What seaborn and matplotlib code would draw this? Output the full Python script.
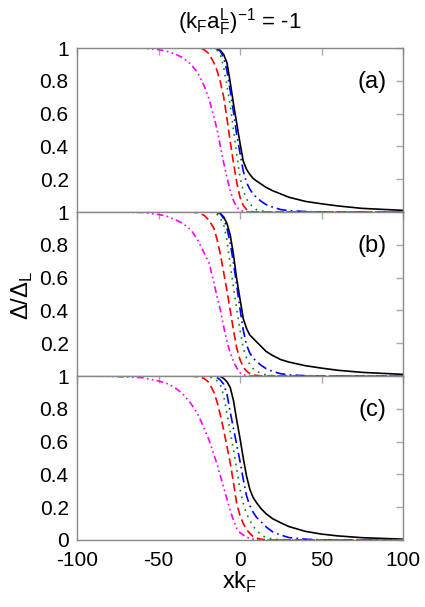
import numpy as np
import pandas as pd
import matplotlib
matplotlib.use("Agg")
import matplotlib.pyplot as plt
import seaborn as sns

# common x grid (x k_F)
x = [-100, -80, -60, -50, -45, -40, -35, -30, -26, -22, -19, -16, -14, -12, -10,
     -8, -6, -4, -2, 0, 2, 4, 6, 8, 10, 13, 16, 20, 25, 30, 40, 50, 60, 75, 100]

# panel (a)
black_a = [1, 1, 1, 1, 1, 1, 1, 1, 1, 1, 1, 1.0, 0.995, 0.985, 0.96,
           0.91, 0.79, 0.66, 0.54, 0.42, 0.31, 0.26, 0.23, 0.205, 0.19, 0.17, 0.15, 0.13, 0.11, 0.09, 0.065, 0.05, 0.037, 0.022, 0.01]
blue_a = [1, 1, 1, 1, 1, 1, 1, 1, 1, 1, 1, 1.0, 0.995, 0.98, 0.94,
          0.86, 0.74, 0.61, 0.47, 0.36, 0.25, 0.18, 0.14, 0.11, 0.09, 0.065, 0.045, 0.03, 0.015, 0.008, 0.003, 0, 0, 0, 0]
green_a = [1, 1, 1, 1, 1, 1, 1, 1, 1, 1, 1, 0.995, 0.985, 0.96, 0.88,
           0.77, 0.65, 0.50, 0.35, 0.21, 0.13, 0.08, 0.05, 0.03, 0.015, 0.007, 0.003, 0, 0, 0, 0, 0, 0, 0, 0]
red_a = [1, 1, 1, 1, 1, 1, 1, 1, 1, 0.99, 0.965, 0.91, 0.86, 0.79, 0.70,
         0.57, 0.43, 0.30, 0.18, 0.09, 0.04, 0.015, 0.005, 0, 0, 0, 0, 0, 0, 0, 0, 0, 0, 0, 0]
magenta_a = [1, 1, 0.999, 0.99, 0.98, 0.965, 0.94, 0.90, 0.85, 0.77, 0.69, 0.58, 0.50, 0.40, 0.30,
             0.21, 0.13, 0.07, 0.03, 0.012, 0.004, 0, 0, 0, 0, 0, 0, 0, 0, 0, 0, 0, 0, 0, 0]

# panel (b)
black_b = [1, 1, 1, 1, 1, 1, 1, 1, 1, 1, 1, 1.0, 0.998, 0.99, 0.97,
           0.93, 0.86, 0.74, 0.59, 0.47, 0.35, 0.29, 0.25, 0.23, 0.21, 0.18, 0.15, 0.125, 0.10, 0.085, 0.063, 0.048, 0.035, 0.022, 0.01]
blue_b = [1, 1, 1, 1, 1, 1, 1, 1, 1, 1, 1, 1.0, 0.997, 0.99, 0.96,
          0.90, 0.81, 0.69, 0.55, 0.41, 0.28, 0.19, 0.14, 0.11, 0.09, 0.065, 0.045, 0.028, 0.014, 0.007, 0.002, 0, 0, 0, 0]
green_b = [1, 1, 1, 1, 1, 1, 1, 1, 1, 1, 1, 0.995, 0.985, 0.96, 0.92,
           0.83, 0.68, 0.54, 0.41, 0.28, 0.17, 0.11, 0.07, 0.045, 0.03, 0.015, 0.007, 0.002, 0, 0, 0, 0, 0, 0, 0]
red_b = [1, 1, 1, 1, 1, 1, 1, 1, 0.995, 0.98, 0.95, 0.90, 0.83, 0.74, 0.63,
         0.52, 0.40, 0.28, 0.17, 0.10, 0.055, 0.03, 0.015, 0.008, 0.004, 0, 0, 0, 0, 0, 0, 0, 0, 0, 0]
magenta_b = [1, 1, 0.997, 0.985, 0.975, 0.955, 0.93, 0.89, 0.83, 0.75, 0.69, 0.57, 0.48, 0.40, 0.30,
             0.21, 0.14, 0.09, 0.05, 0.02, 0.008, 0.003, 0, 0, 0, 0, 0, 0, 0, 0, 0, 0, 0, 0, 0]

# panel (c)
black_c = [1, 1, 1, 1, 1, 1, 1, 1, 1, 1, 1, 1, 1.0, 0.997, 0.985,
           0.965, 0.93, 0.85, 0.73, 0.62, 0.50, 0.39, 0.31, 0.26, 0.23, 0.19, 0.16, 0.13, 0.105, 0.082, 0.053, 0.036, 0.025, 0.014, 0.005]
blue_c = [1, 1, 1, 1, 1, 1, 1, 1, 1, 1, 1, 0.997, 0.99, 0.975, 0.95,
          0.89, 0.78, 0.68, 0.58, 0.48, 0.37, 0.27, 0.21, 0.17, 0.14, 0.11, 0.08, 0.05, 0.03, 0.015, 0.005, 0.001, 0, 0, 0]
green_c = [1, 1, 1, 1, 1, 1, 1, 1, 1, 0.998, 0.995, 0.985, 0.97, 0.945, 0.88,
           0.77, 0.66, 0.55, 0.43, 0.31, 0.22, 0.16, 0.12, 0.085, 0.06, 0.03, 0.015, 0.006, 0.002, 0, 0, 0, 0, 0, 0]
red_c = [1, 1, 1, 1, 1, 1, 1, 1, 0.995, 0.985, 0.96, 0.90, 0.84, 0.76, 0.67,
         0.57, 0.47, 0.35, 0.22, 0.15, 0.10, 0.065, 0.04, 0.022, 0.012, 0.005, 0.002, 0, 0, 0, 0, 0, 0, 0, 0]
magenta_c = [1, 0.998, 0.99, 0.97, 0.955, 0.93, 0.89, 0.83, 0.77, 0.68, 0.61, 0.52, 0.46, 0.39, 0.32,
             0.25, 0.18, 0.12, 0.07, 0.045, 0.03, 0.018, 0.01, 0.006, 0.003, 0, 0, 0, 0, 0, 0, 0, 0, 0, 0]

panels = [("(a)", [black_a, blue_a, green_a, red_a, magenta_a]),
          ("(b)", [black_b, blue_b, green_b, red_b, magenta_b]),
          ("(c)", [black_c, blue_c, green_c, red_c, magenta_c])]

colors = ["black", "#0000ff", "#008b00", "#ff0000", "#ff00ff"]
styles = ["-", (0, (6, 2.5, 1, 2.5)), (0, (1, 3)), (0, (5, 2.5)), (0, (4, 2, 1, 2, 1, 2))]

sns.set_style("white")
plt.rcParams["font.family"] = ["Liberation Sans", "DejaVu Sans"]
plt.rcParams["mathtext.fontset"] = "custom"
plt.rcParams["mathtext.rm"] = "Liberation Sans"
plt.rcParams["axes.unicode_minus"] = False
plt.rcParams["text.color"] = "black"

fig, axes = plt.subplots(3, 1, figsize=(4.25, 6.07), dpi=100, sharex=True)
fig.subplots_adjust(left=77/425, right=403/425, top=1-48/607, bottom=1-540/607, hspace=0)

for i, (ax, (lab, curves)) in enumerate(zip(axes, panels)):
    for y, c, ls in zip(curves, colors, styles):
        sns.lineplot(x=x, y=y, color=c, linestyle=ls, linewidth=1.2, ax=ax)
    ax.set_xlim(-100, 100)
    ax.set_ylim(0, 1)
    ax.set_yticks([0, 0.2, 0.4, 0.6, 0.8, 1])
    if i < 2:
        ax.set_yticklabels(["", "0.2", "0.4", "0.6", "0.8", "1"])
    else:
        ax.set_yticklabels(["0", "0.2", "0.4", "0.6", "0.8", "1"])
    ax.set_xticks([-100, -50, 0, 50, 100])
    ax.tick_params(direction="in", length=5, color="#aaaaaa", width=1,
                   top=True, right=True, labelsize=15, pad=6, labelcolor="black")
    ax.tick_params(axis="x", pad=8)
    for s in ax.spines.values():
        s.set_color("#888888")
        s.set_linewidth(1)
    ax.text(81, 0.79, lab, fontsize=17, ha="center", va="center", color="black")

axes[2].set_xticklabels(["-100", "-50", "0", "50", "100"])

fig.text(240/425, 1-22/607, r"(k$_\mathrm{F}$a$_\mathrm{F}^\mathrm{L}$)$^\mathrm{-1}$ = -1",
         fontsize=16, ha="center", va="center")
fig.text(240/425, 1-582/607, r"xk$_\mathrm{F}$", fontsize=17, ha="center", va="center")
fig.text(22/425, 1-295/607, r"Δ/Δ$_\mathrm{L}$", fontsize=17, ha="center", va="center", rotation=90)

fig.savefig("out.png", dpi=100)
